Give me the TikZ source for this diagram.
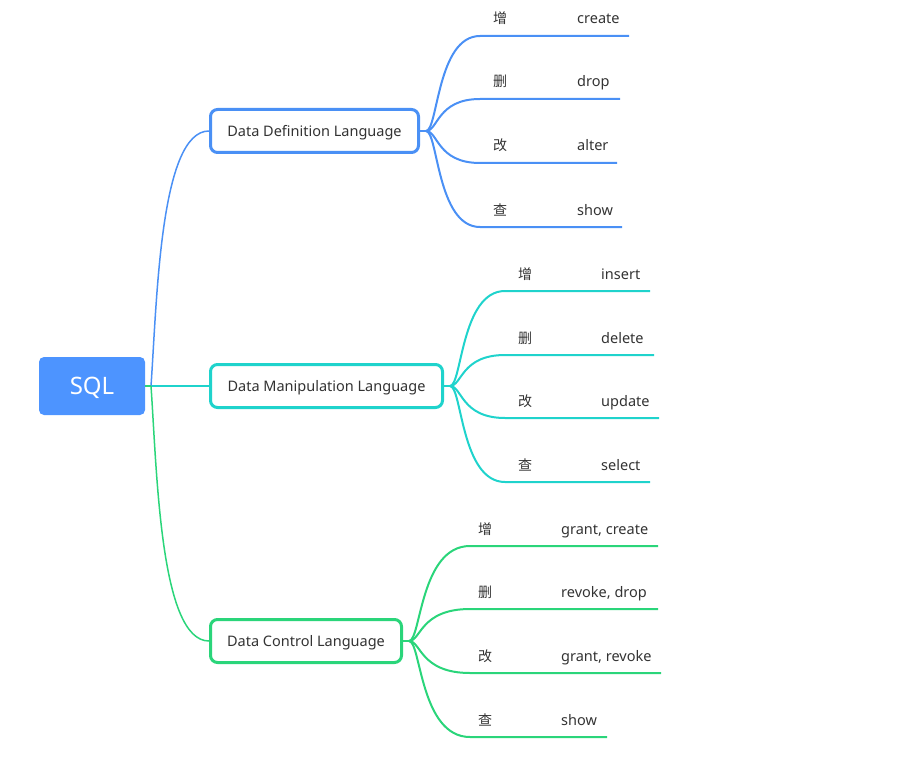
\documentclass[tikz,border=0pt]{standalone}
\usepackage{fontspec}
\setmainfont{Noto Sans}
\newfontfamily\cjk{Noto Sans CJK SC}
\definecolor{cblue}{HTML}{4A90F5}
\definecolor{csql}{HTML}{4D94FF}
\definecolor{ccyan}{HTML}{1FD3CC}
\definecolor{cgreen}{HTML}{2AD57A}
\definecolor{ctext}{HTML}{333333}
\begin{document}
\begin{tikzpicture}[x=1pt,y=-1pt,
  sqlbox/.style={fill=csql, rounded corners=5pt, minimum width=106pt, minimum height=58pt, inner sep=0pt, text depth=0pt, text=white, font=\fontsize{24}{26}\selectfont},
  catbox/.style={fill=white, line width=3pt, rounded corners=7pt, minimum height=43pt, inner sep=0pt, text depth=0pt, text=ctext, font=\fontsize{14.5}{16}\selectfont},
  main/.style={line width=1.5pt},
  leaf/.style={line width=2pt},
  zh/.style={anchor=base, inner sep=0pt, text=ctext, font=\cjk\fontsize{14}{16}\selectfont},
  en/.style={anchor=base west, inner sep=0pt, text=ctext, font=\fontsize{14.5}{16}\selectfont}]
\useasboundingbox (0,0) rectangle (901,762);

\node[sqlbox] (sql) at (92,386) {SQL};
\node[catbox, draw=cblue, minimum width=208pt] (ddl) at (314.5,131) {Data Definition Language};
\node[catbox, draw=ccyan, minimum width=232pt] (dml) at (326.5,386) {Data Manipulation Language};
\node[catbox, draw=cgreen, minimum width=191pt] (dcl) at (306,641) {Data Control Language};

\coordinate (sqlj) at (151,386);
\draw[main, ccyan] (sqlj) -- (dml.west);
\draw[main, cblue] (sqlj) .. controls (157,300) and (160,131) .. (ddl.west);
\draw[main, cgreen] (sqlj) .. controls (157,472) and (160,641) .. (dcl.west);
\draw[main, cgreen] (sql.east) -- (sqlj);

% DDL leaves
\coordinate (ddlj) at (426,131);
\draw[leaf, cblue] (ddl.east) -- (ddlj);
\foreach \i/\y/\zh/\en/\e in {1/36/增/create/629, 2/99/删/drop/620, 3/163/改/alter/617, 4/227/查/show/622}{
  \coordinate (ddls\i) at (480,\y);
  \coordinate (ddle\i) at (\e,\y);
  \node[zh] (ddlz\i) at (500,\y-12) {\zh};
  \node[en] (ddlt\i) at (577,\y-12) {\en};
  \draw[leaf, cblue] (ddlj) .. controls (438,131) and (437,\y) .. (ddls\i) -- (ddle\i);
}

% DML leaves
\coordinate (dmlj) at (450,386);
\draw[leaf, ccyan] (dml.east) -- (dmlj);
\foreach \i/\y/\zh/\en/\e in {1/291/增/insert/650, 2/355/删/delete/654, 3/418/改/update/659, 4/482/查/select/650}{
  \coordinate (dmls\i) at (505,\y);
  \coordinate (dmle\i) at (\e,\y);
  \node[zh] (dmlz\i) at (525,\y-12) {\zh};
  \node[en] (dmlt\i) at (601,\y-12) {\en};
  \draw[leaf, ccyan] (dmlj) .. controls (462,386) and (461,\y) .. (dmls\i) -- (dmle\i);
}

% DCL leaves
\coordinate (dclj) at (409,641);
\draw[leaf, cgreen] (dcl.east) -- (dclj);
\foreach \i/\y/\zh/\en/\e in {1/546/增/{grant, create}/658, 2/609/删/{revoke, drop}/658, 3/673/改/{grant, revoke}/661, 4/737/查/show/607}{
  \coordinate (dcls\i) at (470,\y);
  \coordinate (dcle\i) at (\e,\y);
  \node[zh] (dclz\i) at (485,\y-12) {\zh};
  \node[en] (dclt\i) at (561,\y-12) {\en};
  \draw[leaf, cgreen] (dclj) .. controls (421,641) and (420,\y) .. (dcls\i) -- (dcle\i);
}
\end{tikzpicture}
\end{document}
